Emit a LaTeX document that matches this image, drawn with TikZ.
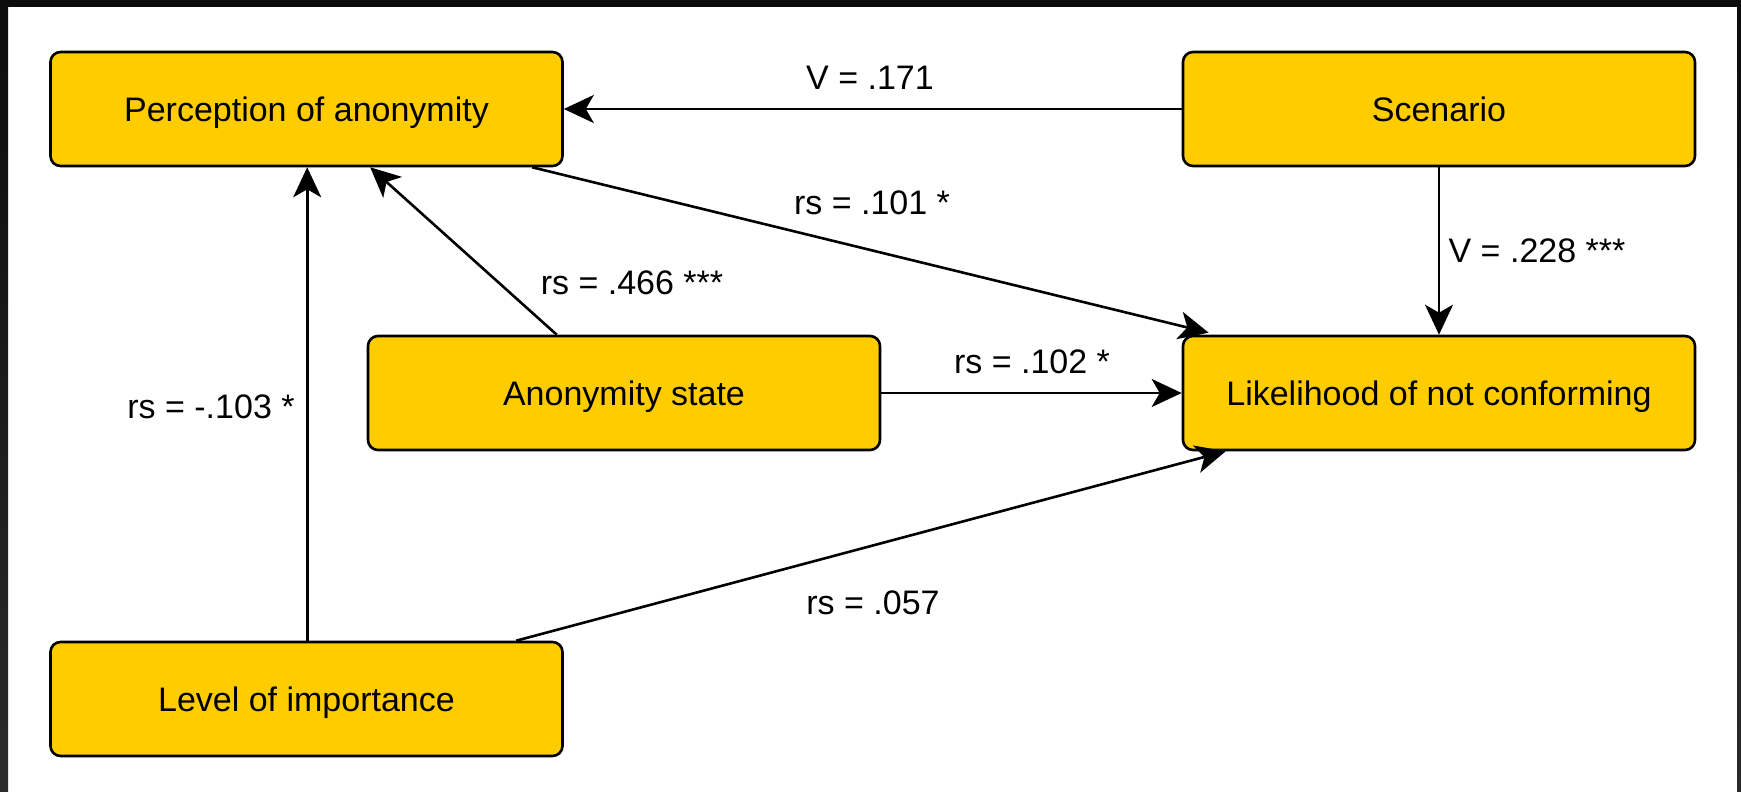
\documentclass[tikz,border=0pt]{standalone}
\usepackage{fontspec}
\setmainfont{Liberation Sans}
\usetikzlibrary{arrows.meta,calc}
\definecolor{boxfill}{HTML}{FFCC00}
\definecolor{frametop}{HTML}{0C0C0C}
\definecolor{framelow}{HTML}{2B2B2B}
\tikzset{
  varbox/.style={draw=black, line width=1.3pt, fill=boxfill, rounded corners=5pt,
    minimum width=256pt, minimum height=57pt, inner sep=0pt,
    font=\fontsize{17}{20}\selectfont, text height=12.2pt, text depth=0pt},
  link/.style={line width=1.3pt, -{Stealth[length=15pt,width=14pt,inset=4pt]}},
  coef/.style={font=\fontsize{17}{20}\selectfont, text height=12.2pt, text depth=0pt, inner sep=0pt}
}
\begin{document}
\begin{tikzpicture}[x=0.5pt,y=-0.5pt]
  % canvas and dark frame
  \useasboundingbox (0,0) rectangle (1741,792);
  \fill[white] (0,0) rectangle (1741,792);
  \fill[frametop] (0,0) rectangle (1741,7);
  \shade[top color=frametop, bottom color=framelow] (0,7) rectangle (8,792);
  \shade[top color=frametop, bottom color=framelow] (1737,7) rectangle (1741,792);

  % variables
  \node[varbox] (perc)  at (306.5,109) {Perception of anonymity};
  \node[varbox] (scen)  at (1439,109)  {Scenario};
  \node[varbox] (anon)  at (624,393)   {Anonymity state};
  \node[varbox] (like)  at (1439,393)  {Likelihood of not conforming};
  \node[varbox] (level) at (306.5,699) {Level of importance};

  % attachment points on the box borders
  \coordinate (percA) at ($(perc.south west)+(483,0)$);
  \coordinate (percB) at ($(perc.south west)+(321,0)$);
  \coordinate (percC) at ($(perc.south west)+(258,0)$);
  \coordinate (likeA) at ($(like.north west)+(27,-2)$);
  \coordinate (likeB) at ($(like.south west)+(44,0)$);
  \coordinate (anonA) at ($(anon.north west)+(190,0)$);
  \coordinate (levelA) at ($(level.north west)+(258,0)$);
  \coordinate (levelB) at ($(level.north west)+(467,0)$);

  % associations
  \draw[link] (scen.west) -- (perc.east);
  \draw[link] (percA) -- (likeA);
  \draw[link] (scen.south) -- (like.north);
  \draw[link] (anonA) -- (percB);
  \draw[link] (anon.east) -- (like.west);
  \draw[link] (levelA) -- (percC);
  \draw[link] (levelB) -- (likeB);

  % coefficients
  \node[coef] (c1) at (870,77.5)  {V = .171};
  \node[coef] (c2) at (872,202)   {rs = .101 *};
  \node[coef] (c3) at (1537,250.5){V = .228 ***};
  \node[coef] (c4) at (632,282.5) {rs = .466 ***};
  \node[coef] (c5) at (1032,361)  {rs = .102 *};
  \node[coef] (c6) at (211,406)   {rs = -.103 *};
  \node[coef] (c7) at (873,602)   {rs = .057};
\end{tikzpicture}
\end{document}
